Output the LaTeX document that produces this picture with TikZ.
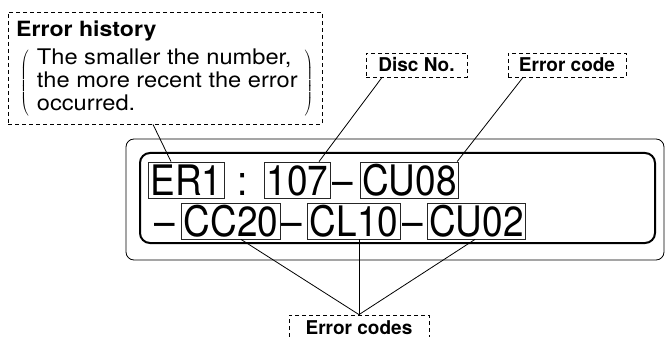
\documentclass[tikz,border=0pt]{standalone}
\usepackage{fontspec}
\setmainfont{TeX Gyre Heros}
\newfontfamily\lcdfont[FakeStretch=0.88]{TeX Gyre Heros}
\newfontfamily\notefont[FakeStretch=1.1]{TeX Gyre Heros}
\usetikzlibrary{positioning}
\tikzset{
  lcd/.style={font=\lcdfont\fontsize{42}{42}\selectfont, inner sep=0pt, anchor=base},
  lcdbox/.style={lcd, draw=black!85, line width=0.8pt, text height=30pt, text depth=0pt,
                 inner xsep=2pt, inner ysep=3pt},
  callout/.style={draw, dashed, dash pattern=on 4pt off 3pt, line width=0.8pt,
                  font=\bfseries\fontsize{19}{22}\selectfont, inner sep=0pt},
  leader/.style={line width=0.8pt},
  frame/.style={line width=#1},
  frame/.default=0.8pt,
}

\begin{document}
\begin{tikzpicture}[x=1pt, y=-1pt]
  \useasboundingbox (0,0) rectangle (665,337);

  % display frames
  \draw[frame, rounded corners=8pt] (126,139) rectangle (664,260);
  \draw[frame=2pt, rounded corners=10pt] (140,153) rectangle (655,243);

  % first line of the display
  \node[lcdbox] (er) at (186.5,195) {ER1};
  \node[lcd] (colon) at (243,195) {:};
  \node[lcdbox] (disc) at (297.5,195) {107};
  \node[lcd] (dashA) at (343,195) {–};
  \node[lcdbox] (code) at (409.5,195) {CU08};

  % second line of the display
  \node[lcd] (dashB) at (164.5,236) {–};
  \node[lcdbox] (hist1) at (231,236) {CC20};
  \node[lcd] (dashC) at (292,236) {–};
  \node[lcdbox] (hist2) at (354,236) {CL10};
  \node[lcd] (dashD) at (413,236) {–};
  \node[lcdbox] (hist3) at (476.5,236) {CU02};

  % callouts
  \node[callout, minimum width=314pt, minimum height=112pt] (history) at (165,68) {};
  \node[anchor=base west, inner sep=0pt, font=\notefont\bfseries\fontsize{21}{23}\selectfont]
       (histtitle) at (16,37) {Error history};
  \node[anchor=west, inner sep=0pt, font=\notefont\fontsize{21.5}{23}\selectfont]
       (histnote) at (20,83)
       {$\left(\hspace{8pt}\begin{tabular}{@{}l@{}}The smaller the number,\\
        the more recent the error\\ occurred.\end{tabular}\hspace{7pt}\right)$};
  \node[callout, minimum width=101pt, minimum height=24pt] (disclabel) at (416.5,65) {Disc No.};
  \node[callout, minimum width=118pt, minimum height=24pt] (codelabel) at (567,65) {Error code};
  \node[callout, minimum width=140pt, text height=19pt, text depth=12pt, anchor=base]
       (codeslabel) at (359,334) {Error codes};

  % leaders
  \draw[leader] ([xshift=-12pt]history.south) -- ([xshift=-15.5pt]er.north);
  \draw[leader] ([xshift=-34.5pt]disclabel.south) -- ([xshift=21.5pt]disc.north);
  \draw[leader] ([xshift=-44pt]codelabel.south) -- ([xshift=-2pt]code.north east);
  \draw[leader] (codeslabel.north) -- ([xshift=10pt]hist1.south);
  \draw[leader] (codeslabel.north) -- ([xshift=5pt]hist2.south);
  \draw[leader] (codeslabel.north) -- ([xshift=-1.5pt]hist3.south);
\end{tikzpicture}
\end{document}
